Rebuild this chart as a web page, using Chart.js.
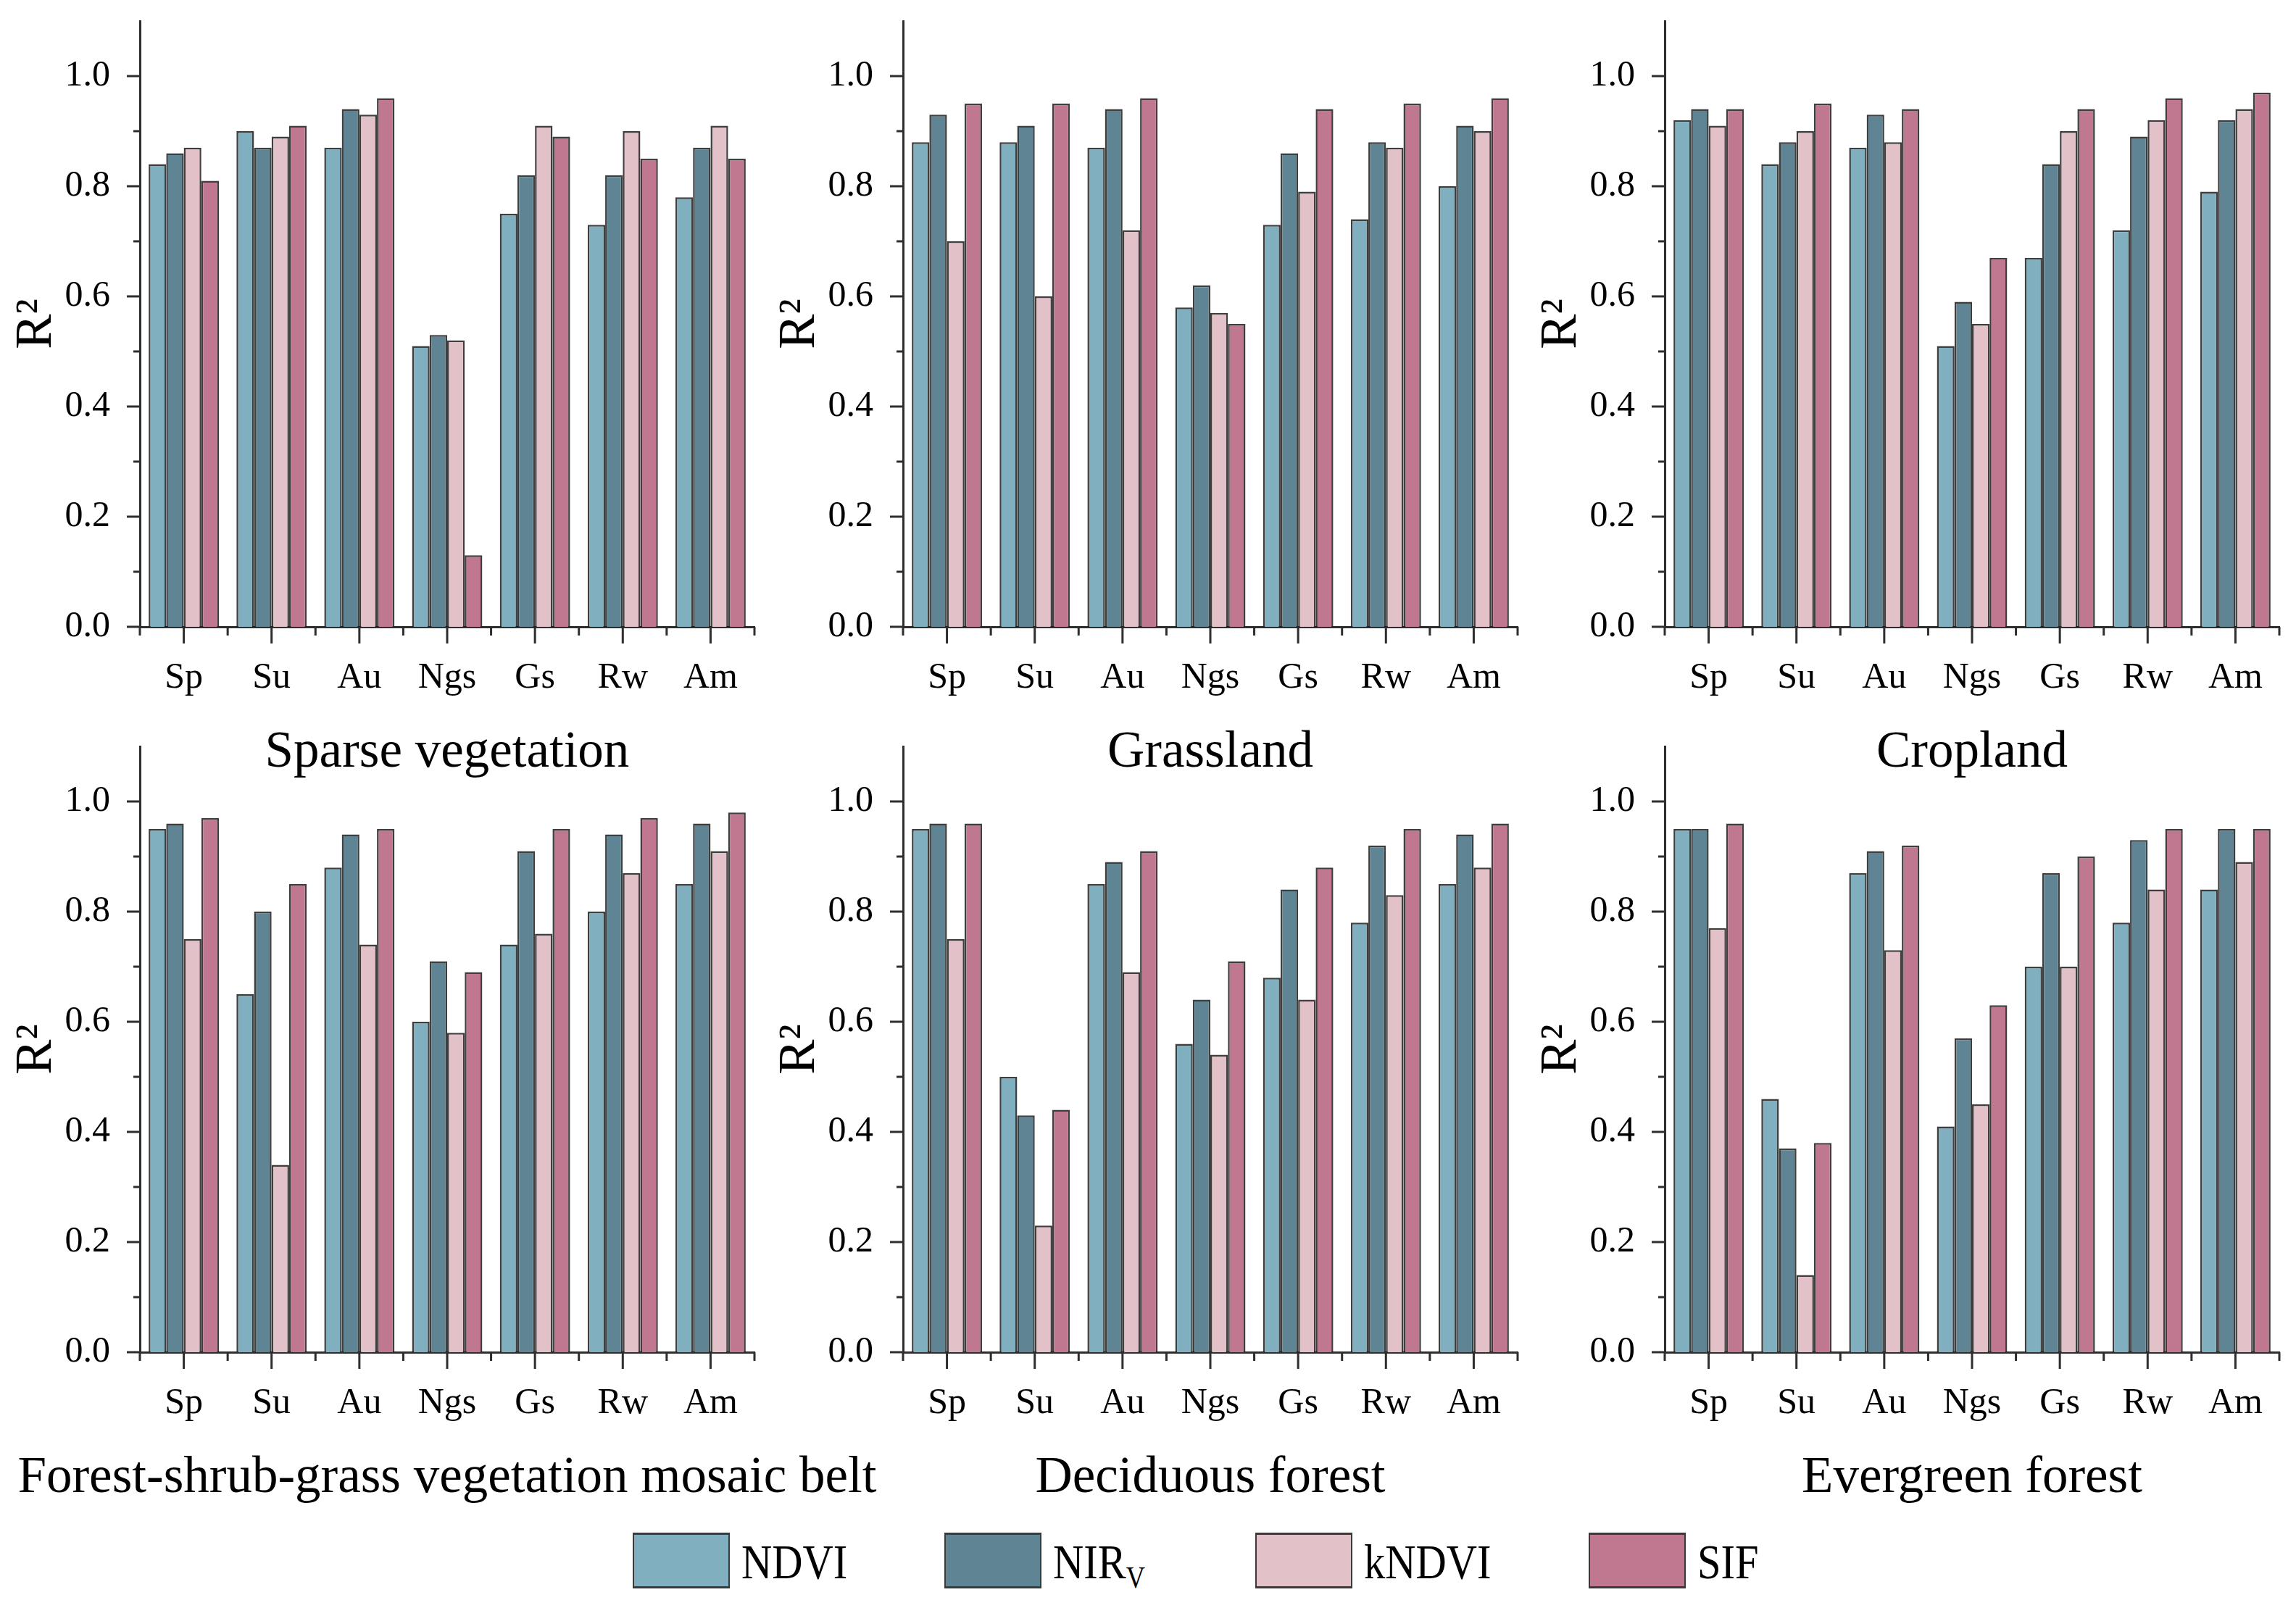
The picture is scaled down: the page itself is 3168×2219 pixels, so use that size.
<!DOCTYPE html>
<html>
<head>
<meta charset="utf-8">
<title>R2 of vegetation indices by land cover</title>
<script src="https://cdn.jsdelivr.net/npm/chart.js@4.4.1/dist/chart.umd.min.js"></script>
<style>
  html, body { margin: 0; padding: 0; background: #fff; }
  #figure {
    position: relative; width: 3168px; height: 2219px; overflow: hidden;
    font-family: 'Liberation Serif', 'Times New Roman', serif; color: #000;
  }
  .panel { position: absolute; }
  .panel-title {
    position: absolute; white-space: nowrap; font-size: 71px; line-height: 1;
    transform: translateX(-50%);
  }
  .legend-box {
    position: absolute; width: 134px; height: 77px; box-sizing: border-box;
    border: 2px solid #3a3a3a; border-top-width: 3px; border-bottom-width: 3px;
  }
  .legend-text {
    position: absolute; font-size: 68px; line-height: 1; white-space: nowrap;
    transform-origin: 0 0; transform: scaleX(0.86);
  }
  .legend-text sub { font-size: 0.62em; vertical-align: -0.3em; line-height: 0; }
</style>
</head>
<body>
<div id="figure"></div>
<script>
// ------------------------------------------------------------
// Data — R² per season / phase
// ------------------------------------------------------------
const CATEGORIES = ['Sp', 'Su', 'Au', 'Ngs', 'Gs', 'Rw', 'Am'];
const SERIES_NAMES = ['NDVI', 'NIRv', 'kNDVI', 'SIF'];
const Y_TICK_LABELS = ['0.0', '0.2', '0.4', '0.6', '0.8', '1.0'];

// Sparse vegetation
const sparseNdvi  = [0.84, 0.90, 0.87, 0.51, 0.75, 0.73, 0.78];
const sparseNirv  = [0.86, 0.87, 0.94, 0.53, 0.82, 0.82, 0.87];
const sparseKndvi = [0.87, 0.89, 0.93, 0.52, 0.91, 0.90, 0.91];
const sparseSif   = [0.81, 0.91, 0.96, 0.13, 0.89, 0.85, 0.85];

// Grassland
const grassNdvi  = [0.88, 0.88, 0.87, 0.58, 0.73, 0.74, 0.80];
const grassNirv  = [0.93, 0.91, 0.94, 0.62, 0.86, 0.88, 0.91];
const grassKndvi = [0.70, 0.60, 0.72, 0.57, 0.79, 0.87, 0.90];
const grassSif   = [0.95, 0.95, 0.96, 0.55, 0.94, 0.95, 0.96];

// Cropland
const cropNdvi  = [0.92, 0.84, 0.87, 0.51, 0.67, 0.72, 0.79];
const cropNirv  = [0.94, 0.88, 0.93, 0.59, 0.84, 0.89, 0.92];
const cropKndvi = [0.91, 0.90, 0.88, 0.55, 0.90, 0.92, 0.94];
const cropSif   = [0.94, 0.95, 0.94, 0.67, 0.94, 0.96, 0.97];

// Forest-shrub-grass vegetation mosaic belt
const mosaicNdvi  = [0.95, 0.65, 0.88, 0.60, 0.74, 0.80, 0.85];
const mosaicNirv  = [0.96, 0.80, 0.94, 0.71, 0.91, 0.94, 0.96];
const mosaicKndvi = [0.75, 0.34, 0.74, 0.58, 0.76, 0.87, 0.91];
const mosaicSif   = [0.97, 0.85, 0.95, 0.69, 0.95, 0.97, 0.98];

// Deciduous forest
const decidNdvi  = [0.95, 0.50, 0.85, 0.56, 0.68, 0.78, 0.85];
const decidNirv  = [0.96, 0.43, 0.89, 0.64, 0.84, 0.92, 0.94];
const decidKndvi = [0.75, 0.23, 0.69, 0.54, 0.64, 0.83, 0.88];
const decidSif   = [0.96, 0.44, 0.91, 0.71, 0.88, 0.95, 0.96];

// Evergreen forest
const everNdvi  = [0.95, 0.46, 0.87, 0.41, 0.70, 0.78, 0.84];
const everNirv  = [0.95, 0.37, 0.91, 0.57, 0.87, 0.93, 0.95];
const everKndvi = [0.77, 0.14, 0.73, 0.45, 0.70, 0.84, 0.89];
const everSif   = [0.96, 0.38, 0.92, 0.63, 0.90, 0.95, 0.95];

const PANELS = [
    { title: 'Sparse vegetation', series: [sparseNdvi, sparseNirv, sparseKndvi, sparseSif] },
    { title: 'Grassland',         series: [grassNdvi, grassNirv, grassKndvi, grassSif] },
    { title: 'Cropland',          series: [cropNdvi, cropNirv, cropKndvi, cropSif] },
    { title: 'Forest-shrub-grass vegetation mosaic belt', series: [mosaicNdvi, mosaicNirv, mosaicKndvi, mosaicSif] },
    { title: 'Deciduous forest',  series: [decidNdvi, decidNirv, decidKndvi, decidSif] },
    { title: 'Evergreen forest',  series: [everNdvi, everNirv, everKndvi, everSif] }
];

// ------------------------------------------------------------
// Style / layout
// ------------------------------------------------------------
const FONT = "'Liberation Serif', serif";
const BAR_COLORS = ['#80afc0', '#5f8595', '#e2c1c8', '#c07890'];
const AXIS_COLOR = '#2e2e2e';

const COL_AXIS_X = [193, 1246, 2297];   // y-axis line of each column
const ROW_TOP = [29, 1030];             // top of y-axis (value 1.1) per row
const PLOT_W = 848;
const PLOT_H = 836;
const Y_SCALE_W = 193;
const X_SCALE_H = 100;
const TITLE_BASELINE = 193;             // px below zero line

// Tick marks: long at category centres / even tenths, short in between
const axisTicks = {
    id: 'axisTicks',
    afterDraw(chart) {
        const { ctx, chartArea, scales: { x, y } } = chart;
        const base = chartArea.bottom;
        const step = x.getPixelForValue(1) - x.getPixelForValue(0);
        ctx.save();
        ctx.strokeStyle = AXIS_COLOR;
        ctx.lineWidth = 3;
        ctx.beginPath();
        CATEGORIES.forEach((c, i) => {
            const cx = x.getPixelForValue(i);
            ctx.moveTo(cx, base);
            ctx.lineTo(cx, base + 23);
        });
        for (let i = 0; i <= CATEGORIES.length; i++) {
            const bx = x.getPixelForValue(0) + (i - 0.5) * step;
            ctx.moveTo(bx, base);
            ctx.lineTo(bx, base + 12);
        }
        y.ticks.forEach(t => {
            const k = Math.round(t.value * 10);
            if (k > 10) return;
            const py = y.getPixelForValue(t.value);
            ctx.moveTo(chartArea.left, py);
            ctx.lineTo(chartArea.left - (k % 2 === 0 ? 18 : 9), py);
        });
        ctx.stroke();
        ctx.restore();
    }
};

const figure = document.getElementById('figure');

function placeText(cls, html, left, baseline, fontSize) {
    const el = document.createElement('div');
    el.className = cls;
    el.innerHTML = html;
    el.style.left = left + 'px';
    // line-height 1: baseline sits 0.8375em below the box top for Liberation Serif
    el.style.top = (baseline - 0.8375 * fontSize) + 'px';
    figure.appendChild(el);
    return el;
}

function buildPanel(panel, idx) {
    const col = idx % 3;
    const row = Math.floor(idx / 3);
    const axisX = COL_AXIS_X[col];
    const top = ROW_TOP[row];

    const wrap = document.createElement('div');
    wrap.className = 'panel';
    wrap.style.left = (axisX - Y_SCALE_W) + 'px';
    wrap.style.top = (top - 29) + 'px';
    wrap.style.width = (Y_SCALE_W + PLOT_W + 12) + 'px';
    wrap.style.height = (29 + PLOT_H + X_SCALE_H) + 'px';
    const canvas = document.createElement('canvas');
    wrap.appendChild(canvas);
    figure.appendChild(wrap);

    new Chart(canvas.getContext('2d'), {
        type: 'bar',
        data: {
            labels: CATEGORIES,
            datasets: panel.series.map((vals, i) => ({
                label: SERIES_NAMES[i],
                data: vals,
                backgroundColor: BAR_COLORS[i],
                borderColor: 'rgba(28,28,28,0.85)',
                borderWidth: 2.5,
                borderSkipped: 'bottom',
                categoryPercentage: 0.8,
                barPercentage: 1.0
            }))
        },
        options: {
            responsive: true,
            maintainAspectRatio: false,
            animation: false,
            layout: { padding: { left: 0, top: 29, right: 12, bottom: 0 } },
            plugins: { legend: { display: false }, tooltip: { enabled: false } },
            scales: {
                x: {
                    z: 1,
                    grid: { display: false },
                    border: { display: true, color: AXIS_COLOR, width: 3 },
                    ticks: {
                        color: '#000', autoSkip: false, maxRotation: 0, padding: 33,
                        font: { family: FONT, size: 50 }
                    },
                    afterFit: s => { s.height = X_SCALE_H; }
                },
                y: {
                    z: 1,
                    min: 0,
                    max: 1.1,
                    grid: { display: false },
                    border: { display: true, color: AXIS_COLOR, width: 3 },
                    ticks: {
                        stepSize: 0.1, autoSkip: false, color: '#000', padding: 33,
                        font: { family: FONT, size: 50 },
                        callback: v => {
                            const k = Math.round(v * 10);
                            return k % 2 === 0 && k <= 10 ? Y_TICK_LABELS[k / 2] : '';
                        }
                    },
                    title: {
                        display: true, text: 'R²', color: '#000',
                        font: { family: FONT, size: 72 },
                        padding: { top: 8, bottom: 0 }
                    },
                    // fixed width, and no extra label padding pushing the plot top down
                    afterFit: s => { s.width = Y_SCALE_W; s.paddingTop = 0; s.paddingBottom = 0; }
                }
            }
        },
        plugins: [axisTicks]
    });

    // panel name under the category labels
    placeText('panel-title', panel.title, axisX + PLOT_W / 2, top + PLOT_H + TITLE_BASELINE, 71);
}

// ------------------------------------------------------------
// Shared legend
// ------------------------------------------------------------
const LEGEND_LEFT = [873, 1303, 1732, 2192];
const LEGEND_HTML = ['NDVI', 'NIR<sub>V</sub>', 'kNDVI', 'SIF'];

function buildLegend() {
    SERIES_NAMES.forEach((name, i) => {
        const box = document.createElement('div');
        box.className = 'legend-box';
        box.style.left = LEGEND_LEFT[i] + 'px';
        box.style.top = '2115px';
        box.style.background = BAR_COLORS[i];
        figure.appendChild(box);
        placeText('legend-text', LEGEND_HTML[i], LEGEND_LEFT[i] + 150, 2178, 68);
    });
}

function init() {
    PANELS.forEach(buildPanel);
    buildLegend();
}

document.fonts.load("50px 'Liberation Serif'").then(init, init);
</script>
</body>
</html>
